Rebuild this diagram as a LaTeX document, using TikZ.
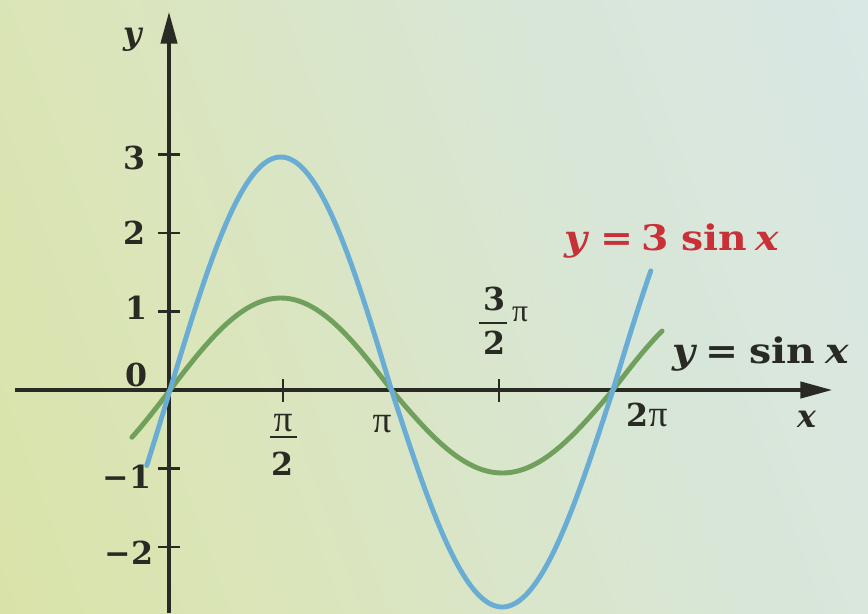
\documentclass[tikz,border=0pt]{standalone}
\usepackage{fontspec}
\setmainfont{DejaVu Serif}
\newfontfamily\lblfont{DejaVu Serif}
\newfontfamily\pifont{Liberation Serif}
\newfontfamily\eqfont[FakeStretch=1.12]{DejaVu Serif}
\usetikzlibrary{arrows.meta}
\definecolor{bgA}{RGB}{214,225,150}
\definecolor{bgB}{RGB}{219,229,186}
\definecolor{bgC}{RGB}{216,230,214}
\definecolor{bgD}{RGB}{219,233,242}
\definecolor{axiscol}{RGB}{40,42,35}
\definecolor{bluecurve}{RGB}{105,172,212}
\definecolor{greencurve}{RGB}{112,160,92}
\definecolor{redlabel}{RGB}{200,50,55}
\pgfdeclarehorizontalshading{bgshade}{100bp}{color(0bp)=(bgA); color(35bp)=(bgB); color(60bp)=(bgC); color(100bp)=(bgD)}
\begin{document}
\begin{tikzpicture}[x=0.03cm,y=-0.03cm,
  axisline/.style={draw=axiscol, line width=2.6pt, -{Triangle[length=27pt,width=14pt]}},
  tickline/.style={draw=axiscol, line width=2pt},
  fracbar/.style={draw=axiscol, line width=1.4pt},
  curve/.style={line width=4.2pt, line cap=round},
  lbl/.style={font=\lblfont\fontsize{27}{30}\selectfont\bfseries, text=axiscol, inner sep=0pt},
  pilbl/.style={font=\pifont\fontsize{32}{34}\selectfont, text=axiscol, inner sep=0pt},
  eqlbl/.style={font=\eqfont\fontsize{30}{34}\selectfont\bfseries, inner sep=0pt, anchor=base west}]
\useasboundingbox (0,0) rectangle (868,613);
\shade[shading=bgshade, shading angle=20] (0,0) rectangle (868,613);
% axes
\coordinate (xs) at (15,390);
\coordinate (xe) at (832,390);
\coordinate (ys) at (169,613);
\coordinate (ye) at (169,12);
\draw[axisline] (xs) -- (xe);
\draw[axisline] (ys) -- (ye);
% y ticks
\foreach \v/\n in {3/t3,2/t2,1/t1,-1/tm1,-2/tm2}{
  \coordinate (\n a) at (158,390-78.5*\v);
  \coordinate (\n b) at (180,390-78.5*\v);
  \draw[tickline] (\n a) -- (\n b);
}
% x ticks
\foreach \px/\n in {283/xa,499/xb}{
  \coordinate (\n a) at (\px,379);
  \coordinate (\n b) at (\px,402);
  \draw[tickline] (\n a) -- (\n b);
}
% labels
\node[lbl] (ylab) at (133,40) {\itshape y};
\node[lbl, anchor=base] (xlab) at (807,427) {\itshape x};
\node[lbl] (l3) at (135,158) {3};
\node[lbl] (l2) at (135,233) {2};
\node[lbl] (l1) at (137,308) {1};
\node[lbl] (l0) at (137,375) {0};
\node[lbl] (lm1) at (127,477) {−1};
\node[lbl] (lm2) at (129,553) {−2};
% pi/2
\node[pilbl] (pih) at (283,423) {π};
\coordinate (pihbl) at (270,437);
\coordinate (pihbr) at (297,437);
\draw[fracbar] (pihbl) -- (pihbr);
\node[lbl] (pihd) at (283,464) {2};
% pi
\node[pilbl] (pi) at (382,424) {π};
% 3/2 pi
\node[lbl] (tpn) at (494,299) {3};
\coordinate (tpbl) at (479,323);
\coordinate (tpbr) at (507,323);
\draw[fracbar] (tpbl) -- (tpbr);
\node[lbl] (tpd) at (494,343) {2};
\node[pilbl, font=\pifont\fontsize{27}{30}\selectfont] (tpp) at (520,314) {π};
% 2pi
\node[lbl] (tpi) at (647,415) {2\pifont\mdseries\fontsize{32}{34}\selectfont π};
% equation labels
\node[eqlbl, text=redlabel] (eq3) at (564,250) {\itshape y\upshape\kern11pt=\kern7pt3\kern11pt sin\kern7pt\itshape x};
\node[eqlbl, text=axiscol] (eq1) at (672,363) {\itshape y\upshape\kern9pt=\kern9pt sin\kern9pt\itshape x};
% curves
\draw[curve, greencurve]
  plot[domain=-0.54:3.1416, samples=80] ({170+70.5*\x},{390-92*sin(\x r)})
  -- plot[domain=3.1416:6.2832, samples=80] ({170+70.5*\x},{390-83*sin(\x r)})
  -- plot[domain=6.2832:6.98, samples=20] ({170+70.5*\x},{390-92*sin(\x r)});
\draw[curve, bluecurve]
  plot[domain=-0.33:3.1416, samples=100] ({170+70.5*\x},{390-233*sin(\x r)})
  -- plot[domain=3.1416:6.2832, samples=100] ({170+70.5*\x},{390-217*sin(\x r)})
  -- plot[domain=6.2832:6.82, samples=25] ({170+70.5*\x},{390-233*sin(\x r)});
\end{tikzpicture}
\end{document}
